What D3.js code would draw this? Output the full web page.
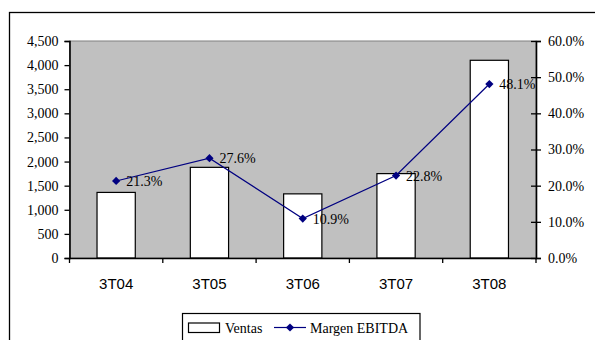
<!DOCTYPE html>
<html>
<head>
<meta charset="utf-8">
<script src="https://cdn.jsdelivr.net/npm/d3@7"></script>
<style>
  html, body { margin: 0; padding: 0; background: #fff; }
  svg { display: block; }
</style>
</head>
<body>
<svg id="chart" width="595" height="340"></svg>
<script>
// ---- data ----
const categories = ["3T04", "3T05", "3T06", "3T07", "3T08"];
const ventas = [1360, 1880, 1330, 1750, 4100];
const margenEbitda = [21.3, 27.6, 10.9, 22.8, 48.1];
const leftTicks = [0, 500, 1000, 1500, 2000, 2500, 3000, 3500, 4000, 4500];
const rightTicks = [0, 10, 20, 30, 40, 50, 60];
const seriesNames = ["Ventas", "Margen EBITDA"];

// ---- layout ----
const svg = d3.select("#chart");
const plot = { left: 69.5, right: 536, top: 41, bottom: 258 };
const serif = "'Liberation Serif','Times New Roman',serif";
const sans = "'Liberation Sans',Arial,sans-serif";
const navy = "#000080";

// outer chart border (clipped on right and bottom)
svg.append("rect")
  .attr("x", 9.5).attr("y", 12.5)
  .attr("width", 700).attr("height", 400)
  .attr("fill", "#fff").attr("stroke", "#000").attr("stroke-width", 1.3);

const x = d3.scaleBand().domain(categories).range([plot.left, plot.right]).padding(0);
const yL = d3.scaleLinear().domain([0, 4500]).range([plot.bottom, plot.top]);
const yR = d3.scaleLinear().domain([0, 60]).range([plot.bottom, plot.top]);

// plot area
svg.append("rect")
  .attr("x", plot.left).attr("y", plot.top)
  .attr("width", plot.right - plot.left).attr("height", plot.bottom - plot.top)
  .attr("fill", "#C0C0C0").attr("stroke", "#808080").attr("stroke-width", 1);

// bars
const barW = x.bandwidth() * 0.41;
svg.append("g").selectAll("rect")
  .data(ventas)
  .join("rect")
  .attr("x", (d, i) => x(categories[i]) + (x.bandwidth() - barW) / 2)
  .attr("y", d => yL(d))
  .attr("width", barW)
  .attr("height", d => yL(0) - yL(d))
  .attr("fill", "#fff").attr("stroke", "#000").attr("stroke-width", 1.2);

// left axis
const gL = svg.append("g")
  .attr("transform", `translate(${plot.left},0)`)
  .call(d3.axisLeft(yL).tickValues(leftTicks).tickFormat(d3.format(",")).tickSize(5).tickPadding(6));
gL.select(".domain").attr("stroke", "#000").attr("stroke-width", 1.6);
gL.selectAll(".tick line").attr("stroke", "#000").attr("stroke-width", 1.3);
gL.selectAll("text").attr("font-family", serif).attr("font-size", 14).attr("fill", "#000");

// right axis
const gR = svg.append("g")
  .attr("transform", `translate(${plot.right},0)`)
  .call(d3.axisRight(yR).tickValues(rightTicks).tickFormat(d => d.toFixed(1) + "%").tickSize(5).tickPadding(7));
gR.select(".domain").attr("stroke", "#000").attr("stroke-width", 1.6);
gR.selectAll(".tick line").attr("x1", -5).attr("stroke", "#000").attr("stroke-width", 1.3);
gR.selectAll("text").attr("font-family", serif).attr("font-size", 14).attr("fill", "#000");

// bottom axis
const gB = svg.append("g")
  .attr("transform", `translate(0,${plot.bottom})`)
  .call(d3.axisBottom(x).tickSize(0).tickPadding(20));
gB.select(".domain").attr("stroke", "#000").attr("stroke-width", 1.6);
gB.selectAll("text").attr("font-family", sans).attr("font-size", 15).attr("fill", "#000");
gB.append("g").selectAll("line")
  .data(categories.concat([null]))
  .join("line")
  .attr("x1", (d, i) => d === null ? plot.right : x(d))
  .attr("x2", (d, i) => d === null ? plot.right : x(d))
  .attr("y1", 0).attr("y2", 5)
  .attr("stroke", "#000").attr("stroke-width", 1.3);

// line series
const cx = (d, i) => x(categories[i]) + x.bandwidth() / 2;
svg.append("path")
  .datum(margenEbitda)
  .attr("fill", "none").attr("stroke", navy).attr("stroke-width", 1.2)
  .attr("d", d3.line().x(cx).y(d => yR(d)));

const diamond = d3.symbol().type(d3.symbolSquare).size(34);
svg.append("g").selectAll("path")
  .data(margenEbitda)
  .join("path")
  .attr("d", diamond)
  .attr("transform", (d, i) => `translate(${cx(d, i)},${yR(d)}) rotate(45)`)
  .attr("fill", navy);

// data labels
svg.append("g").selectAll("text")
  .data(margenEbitda)
  .join("text")
  .attr("x", (d, i) => cx(d, i) + 10)
  .attr("y", d => yR(d) + 5)
  .attr("font-family", serif).attr("font-size", 14).attr("fill", "#000")
  .text(d => d.toFixed(1) + "%");

// legend
const lg = svg.append("g");
lg.append("rect")
  .attr("x", 182.5).attr("y", 313.5).attr("width", 237.5).attr("height", 60)
  .attr("fill", "#fff").attr("stroke", "#000").attr("stroke-width", 1.2);
lg.append("rect")
  .attr("x", 188.5).attr("y", 323).attr("width", 31).attr("height", 9.5)
  .attr("fill", "#fff").attr("stroke", "#000").attr("stroke-width", 1.2);
lg.append("text")
  .attr("x", 225).attr("y", 333)
  .attr("font-family", serif).attr("font-size", 14).attr("fill", "#000")
  .text(seriesNames[0]);
lg.append("line")
  .attr("x1", 274).attr("x2", 306).attr("y1", 327.5).attr("y2", 327.5)
  .attr("stroke", navy).attr("stroke-width", 1.2);
lg.append("path")
  .attr("d", diamond)
  .attr("transform", "translate(290,327.5) rotate(45)")
  .attr("fill", navy);
lg.append("text")
  .attr("x", 310).attr("y", 333)
  .attr("font-family", serif).attr("font-size", 14).attr("fill", "#000")
  .text(seriesNames[1]);
</script>
</body>
</html>
